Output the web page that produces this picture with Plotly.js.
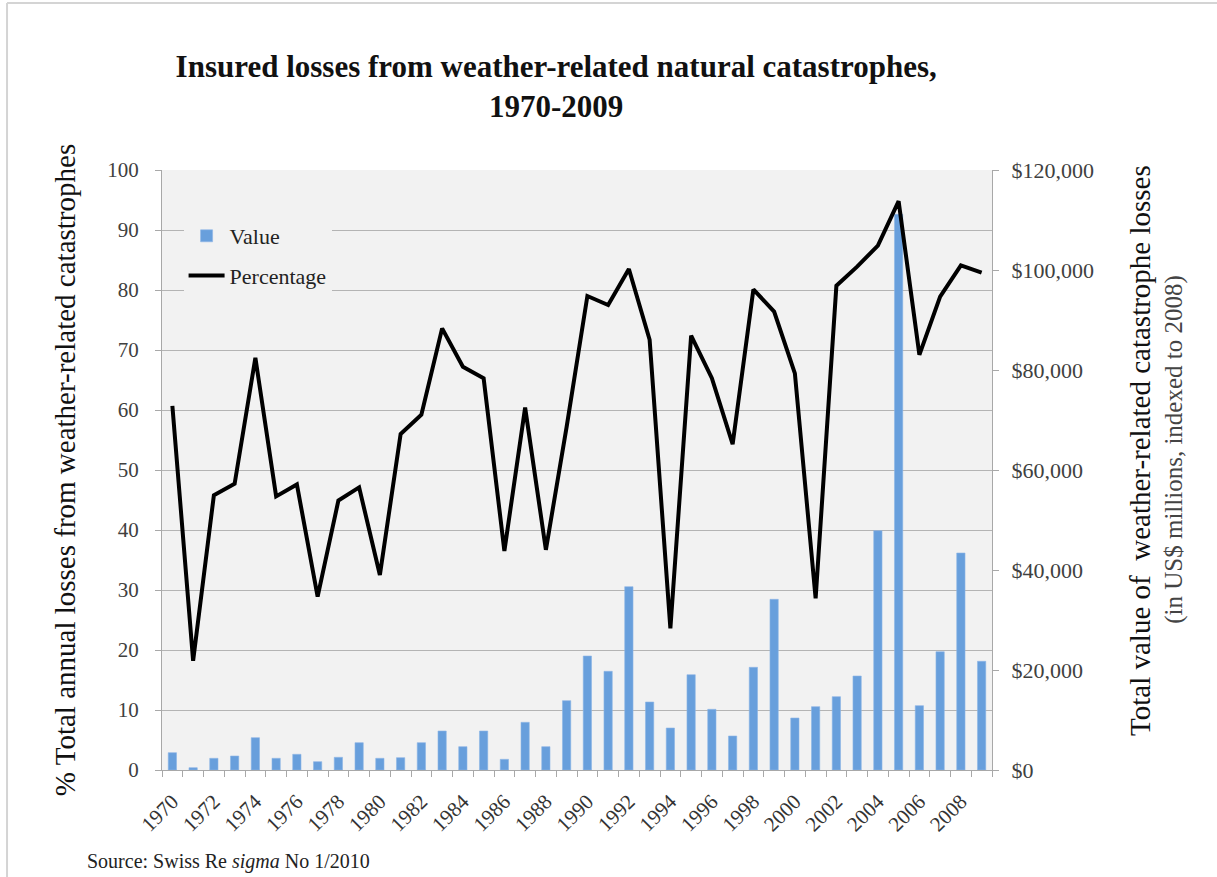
<!DOCTYPE html>
<html>
<head>
<meta charset="utf-8">
<script src="https://cdn.plot.ly/plotly-3.0.1.min.js"></script>
<style>
  html, body { margin: 0; padding: 0; background: #ffffff; }
  #chart { width: 1217px; height: 877px; }
</style>
</head>
<body>
<div id="chart"></div>
<script>
// ---- Data ----
const years = [1970, 1971, 1972, 1973, 1974, 1975, 1976, 1977, 1978, 1979,
               1980, 1981, 1982, 1983, 1984, 1985, 1986, 1987, 1988, 1989,
               1990, 1991, 1992, 1993, 1994, 1995, 1996, 1997, 1998, 1999,
               2000, 2001, 2002, 2003, 2004, 2005, 2006, 2007, 2008, 2009];

// Total value of weather-related catastrophe losses (US$ millions, indexed to 2008)
const lossValue = [3460, 460, 2340, 2800, 6460, 2340, 3140, 1660, 2540, 5460,
                   2340, 2460, 5460, 7800, 4660, 7800, 2140, 9540, 4660, 13860,
                   22800, 19740, 36660, 13600, 8400, 19060, 12140, 6800, 20540, 34140,
                   10400, 12660, 14660, 18800, 47860, 111140, 12860, 23660, 43400, 21740];

// % of total annual losses from weather-related catastrophes
const lossPercentage = [60.7, 18.2, 45.8, 47.7, 68.7, 45.6, 47.6, 28.9, 44.9, 47.1,
                        32.5, 56.0, 59.2, 73.6, 67.2, 65.3, 36.5, 60.4, 36.7, 57.2,
                        79.0, 77.5, 83.5, 71.7, 23.6, 72.4, 65.3, 54.3, 80.1, 76.4,
                        66.1, 28.6, 80.7, 83.9, 87.4, 94.8, 69.2, 78.9, 84.1, 82.9];

const xTickYears = [1970, 1972, 1974, 1976, 1978, 1980, 1982, 1984, 1986, 1988,
                    1990, 1992, 1994, 1996, 1998, 2000, 2002, 2004, 2006, 2008];
const leftTicks = [0, 10, 20, 30, 40, 50, 60, 70, 80, 90, 100];
const rightTicks = [0, 20000, 40000, 60000, 80000, 100000, 120000];
const rightTickText = rightTicks.map(v => '$' + v.toLocaleString('en-US'));

const titleText = 'Insured losses from weather-related natural catastrophes,<br>1970-2009';
const leftTitle = '% Total annual losses from weather-related catastrophes';
const rightTitle1 = 'Total value of  weather-related catastrophe losses';
const rightTitle2 = '(in US$ millions, indexed to 2008)';
const sourceText = 'Source: Swiss Re <i>sigma</i> No 1/2010';

const FONT = '"Liberation Serif", "DejaVu Serif", serif';
const GRID = '#b4b4b4';
const AXIS = '#a8a8a8';

const traces = [
  {
    type: 'bar',
    name: 'Value',
    x: years,
    y: lossValue,
    xaxis: 'x',
    yaxis: 'y',
    marker: { color: '#689fdc', line: { color: '#8db6e6', width: 0.6 } },
    legendgroup: 'a',
    hoverinfo: 'x+y'
  },
  {
    type: 'scatter',
    mode: 'lines',
    name: 'Percentage',
    x: years,
    y: lossPercentage,
    xaxis: 'x',
    yaxis: 'y2',
    line: { color: '#000000', width: 4 },
    legendgroup: 'b',
    hoverinfo: 'x+y'
  }
];

const layout = {
  width: 1217,
  height: 877,
  margin: { l: 162, r: 225, t: 170, b: 107 },
  paper_bgcolor: '#ffffff',
  plot_bgcolor: '#f2f2f2',
  font: { family: FONT, size: 20, color: '#404040' },
  bargap: 0.6,
  showlegend: true,
  title: {
    text: titleText,
    font: { family: FONT, size: 31, color: '#111111', weight: 'bold' },
    x: 0.457,
    xanchor: 'center',
    y: 0.912,
    yanchor: 'top'
  },
  legend: {
    x: 0.026,
    xanchor: 'left',
    y: 0.925,
    yanchor: 'top',
    bgcolor: '#f2f2f2',
    borderwidth: 0,
    tracegroupgap: 8,
    font: { family: FONT, size: 22, color: '#222222' },
    itemwidth: 36
  },
  xaxis: {
    type: 'linear',
    range: [1969.5, 2009.5],
    tickmode: 'array',
    tickvals: xTickYears,
    ticktext: xTickYears.map(String),
    tickangle: -45,
    ticks: '',
    ticklabelstandoff: 10,
    tickfont: { family: FONT, size: 21, color: '#333333' },
    showline: true,
    linecolor: AXIS,
    linewidth: 1,
    showgrid: false,
    zeroline: false,
    minor: {
      tickmode: 'linear',
      tick0: 1969.5,
      dtick: 1,
      ticks: 'outside',
      ticklen: 6,
      tickcolor: AXIS,
      tickwidth: 1,
      showgrid: false
    }
  },
  yaxis: {
    side: 'right',
    range: [0, 120000],
    tickmode: 'array',
    tickvals: rightTicks,
    ticktext: rightTickText,
    ticks: 'outside',
    ticklen: 6,
    tickcolor: AXIS,
    ticklabelstandoff: 8,
    showline: true,
    linecolor: AXIS,
    showgrid: false,
    zeroline: false,
    tickfont: { family: FONT, size: 22, color: '#404040' }
  },
  yaxis2: {
    overlaying: 'y',
    side: 'left',
    range: [0, 100],
    tickmode: 'array',
    tickvals: leftTicks,
    ticks: 'outside',
    ticklen: 6,
    tickcolor: AXIS,
    ticklabelstandoff: 12,
    showline: true,
    linecolor: AXIS,
    showgrid: true,
    gridcolor: GRID,
    gridwidth: 1,
    zeroline: false,
    tickfont: { family: FONT, size: 21, color: '#404040' },
    title: {
      text: leftTitle,
      font: { family: FONT, size: 29, color: '#111111' },
      standoff: 23
    }
  },
  shapes: [
    { type: 'line', xref: 'paper', yref: 'paper', x0: -0.1867, x1: 1.3, y0: 1.2783, y1: 1.2783,
      line: { color: '#d4d4d4', width: 2 } },
    { type: 'line', xref: 'paper', yref: 'paper', x0: -0.1867, x1: -0.1867, y0: -0.2, y1: 1.2783,
      line: { color: '#d4d4d4', width: 2 } }
  ],
  annotations: [
    {
      text: rightTitle1,
      xref: 'paper', yref: 'paper',
      x: 1.178, y: 0.533,
      xanchor: 'center', yanchor: 'middle',
      textangle: -90,
      showarrow: false,
      font: { family: FONT, size: 29, color: '#111111' }
    },
    {
      text: rightTitle2,
      xref: 'paper', yref: 'paper',
      x: 1.219, y: 0.535,
      xanchor: 'center', yanchor: 'middle',
      textangle: -90,
      showarrow: false,
      font: { family: FONT, size: 25, color: '#444444' }
    },
    {
      text: sourceText,
      xref: 'paper', yref: 'paper',
      x: -0.093, y: -0.153,
      xanchor: 'left', yanchor: 'middle',
      showarrow: false,
      font: { family: FONT, size: 20, color: '#222222' }
    }
  ]
};

Plotly.newPlot('chart', traces, layout, { displayModeBar: false, responsive: false });
</script>
</body>
</html>
